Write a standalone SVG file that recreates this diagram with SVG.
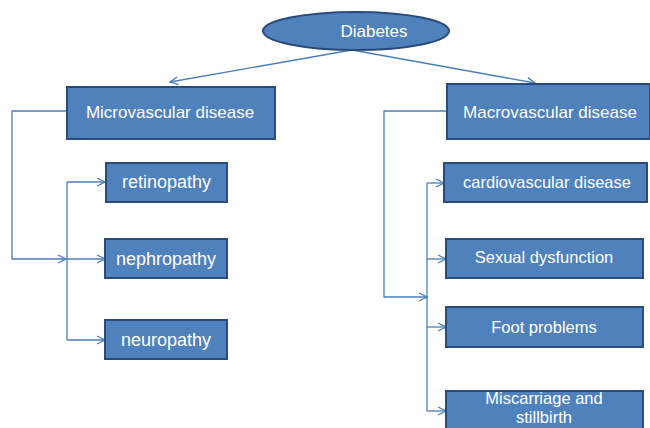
<svg xmlns="http://www.w3.org/2000/svg" width="650" height="428" viewBox="0 0 650 428">
<defs>
<style>
.box{fill:#4F81BD;stroke:#2A4B78;stroke-width:2}
.t{font-family:"Liberation Sans",Arial,sans-serif;fill:#ffffff;text-anchor:middle}
.c{fill:none;stroke:#4A7EBB;stroke-width:1.3}
</style>
<marker id="ah" markerWidth="10" markerHeight="10" refX="9" refY="5" orient="auto" markerUnits="userSpaceOnUse">
<path d="M1,1 L9,5 L1,9" fill="none" stroke="#4A7EBB" stroke-width="1.3"/>
</marker>
</defs>
<rect width="650" height="428" fill="#ffffff"/>
<g id="connectors">
<path class="c" d="M352,50 L170,82" marker-end="url(#ah)"/>
<path class="c" d="M352,50 L535,83" marker-end="url(#ah)"/>
<path class="c" d="M67,111 H12 V259 H66" marker-end="url(#ah)"/>
<path class="c" d="M67,182 V340"/>
<path class="c" d="M67,182 H105" marker-end="url(#ah)"/>
<path class="c" d="M67,259 H105" marker-end="url(#ah)"/>
<path class="c" d="M67,340 H105" marker-end="url(#ah)"/>
<path class="c" d="M447,111 H384 V297 H427" marker-end="url(#ah)"/>
<path class="c" d="M427,183 V411"/>
<path class="c" d="M427,183 H444" marker-end="url(#ah)"/>
<path class="c" d="M427,259 H446" marker-end="url(#ah)"/>
<path class="c" d="M427,327 H446" marker-end="url(#ah)"/>
<path class="c" d="M427,411 H446" marker-end="url(#ah)"/>
</g>
<g id="diabetes">
<ellipse cx="356" cy="31" rx="93" ry="19" fill="#4F81BD" stroke="#2A4B78" stroke-width="2"/>
<text class="t" x="374" y="37" font-size="17">Diabetes</text>
</g>
<g id="microvascular">
<rect class="box" x="67" y="87" width="208" height="52"/>
<text class="t" x="170" y="118" font-size="17">Microvascular disease</text>
</g>
<g id="retinopathy">
<rect class="box" x="106" y="163" width="121" height="39"/>
<text class="t" x="166.5" y="188" font-size="18">retinopathy</text>
</g>
<g id="nephropathy">
<rect class="box" x="105" y="239" width="122" height="39"/>
<text class="t" x="166" y="265" font-size="18">nephropathy</text>
</g>
<g id="neuropathy">
<rect class="box" x="105" y="320" width="122" height="39"/>
<text class="t" x="166" y="346" font-size="18">neuropathy</text>
</g>
<g id="macrovascular">
<rect class="box" x="447" y="84" width="203" height="55"/>
<text class="t" x="550" y="118" font-size="17">Macrovascular disease</text>
</g>
<g id="cardiovascular">
<rect class="box" x="444" y="163" width="203" height="39"/>
<text class="t" x="547" y="188" font-size="16.5">cardiovascular disease</text>
</g>
<g id="sexual">
<rect class="box" x="446" y="239" width="197" height="39"/>
<text class="t" x="544" y="263" font-size="16.5">Sexual dysfunction</text>
</g>
<g id="foot">
<rect class="box" x="446" y="307" width="197" height="40"/>
<text class="t" x="544" y="333" font-size="16.5">Foot problems</text>
</g>
<g id="miscarriage">
<rect class="box" x="446" y="391" width="197" height="45"/>
<text class="t" x="544" y="404" font-size="16.5">Miscarriage and</text>
<text class="t" x="544" y="423" font-size="16.5">stillbirth</text>
</g>
</svg>
